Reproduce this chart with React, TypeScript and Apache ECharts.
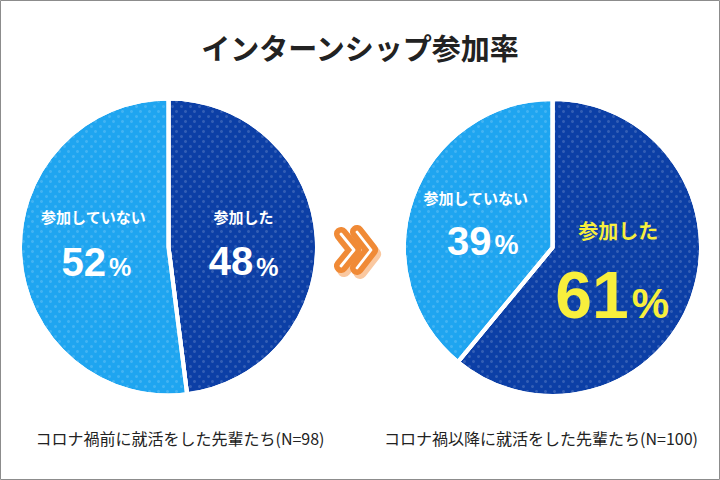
import React, { useEffect, useRef } from "react";
import * as echarts from "echarts";

const titleText = "インターンシップ参加率";
const categories = ["参加した", "参加していない"];
const beforeValues = [48, 52];
const afterValues = [61, 39];
const groupLabels = [
  "コロナ禍前に就活をした先輩たち(N=98)",
  "コロナ禍以降に就活をした先輩たち(N=100)",
];

const DARK = "#0c3fa6";
const LIGHT = "#1fa5f0";
const YELLOW = "#f8ef3c";
const JP = '"Noto Sans CJK JP", "Noto Sans", sans-serif';
const NUM = '"Liberation Sans", Arial, sans-serif';

const decalDots = {
  symbol: "circle",
  symbolSize: 1,
  color: "rgba(255,255,255,0.16)",
  dashArrayX: [
    [2.6, 5.4],
    [0, 4, 2.6, 1.4],
  ],
  dashArrayY: [2.6, 1.4],
  rotation: 0,
};

function richFor(
  nameSize: number,
  nameLH: number,
  numSize: number,
  numLH: number,
  padLeft: number,
  padRight: number,
  pctSize: number,
  pctShift: number,
  color: string
) {
  return {
    n: { fontSize: nameSize, lineHeight: nameLH, fontWeight: "bold", fontFamily: JP, color },
    v: { fontSize: numSize, lineHeight: numLH, fontWeight: "bold", fontFamily: NUM, color, padding: [0, 0, 0, padLeft] },
    p: {
      fontSize: pctSize,
      lineHeight: numLH,
      fontWeight: "bold",
      fontFamily: NUM,
      color,
      padding: [pctShift, padRight, 0, 3],
    },
  };
}

const fmt = (p: any) => `{n|${p.name}}\n{v|${p.value}}{p|%}`;

export default function App() {
  const ref = useRef<HTMLDivElement>(null);
  useEffect(() => {
    if (!ref.current) return;
    const chart = echarts.init(ref.current, null, { renderer: "svg" });

    const makeData = (values: number[], styles: any[]) =>
      values.map((v, i) => ({
        name: categories[i],
        value: v,
        itemStyle: { color: i === 0 ? DARK : LIGHT, decal: decalDots },
        label: styles[i],
      }));

    const beforeData = makeData(beforeValues, [
      { rich: richFor(15, 34, 40, 56, 0, 0, 25, 11, "#ffffff"), padding: [4, 4, 0, 0] },
      { rich: richFor(15, 34, 40, 56, 6, 0, 25, 11, "#ffffff"), padding: [0, 0, 14, 4] },
    ]);
    const afterData = makeData(afterValues, [
      { rich: richFor(20, 40, 66, 88, 0, 12, 42, 17, YELLOW), padding: [2, 14, 0, 0] },
      { rich: richFor(15, 34, 40, 52, 14, 0, 27, 9, "#ffffff"), padding: [5, 8, 0, 0] },
    ]);

    const pieBase = {
      type: "pie",
      radius: 148.5,
      startAngle: 90,
      clockwise: true,
      silent: true,
      avoidLabelOverlap: false,
      itemStyle: { borderColor: "#ffffff", borderWidth: 4 },
      label: { show: true, position: "inside", formatter: fmt },
      labelLine: { show: false },
      emphasis: { disabled: true },
    };

    const chevrons = [
      [[341, 234], [354, 250], [341, 266]],
      [[357, 232], [371, 250], [357, 268]],
    ];
    const arrowEls: any[] = [];
    const layer = (dx: number, dy: number, color: string, width: number, z: number) =>
      chevrons.forEach((pts) =>
        arrowEls.push({
          type: "polyline",
          shape: { points: pts.map(([a, b]) => [a + dx, b + dy]) },
          style: { stroke: color, lineWidth: width, fill: null, lineJoin: "round", lineCap: "round" },
          z,
          silent: true,
        })
      );
    layer(3, 4, "#fac8a0", 14, 10);
    layer(0, 0, "#f08a36", 14, 11);
    layer(0, 0, "#ffffff", 2.8, 12);

    chart.setOption({
      animation: false,
      backgroundColor: "#ffffff",
      title: {
        text: titleText,
        left: "center",
        top: 32,
        padding: 0,
        textStyle: { fontSize: 29, fontWeight: "bold", fontFamily: JP, color: "#222222" },
      },
      series: [
        { ...pieBase, center: [168.5, 247], data: beforeData },
        { ...pieBase, center: [552.5, 247.5], data: afterData },
      ],
      graphic: [
        {
          type: "rect",
          shape: { x: 0.5, y: 0.5, width: 719, height: 479 },
          style: { fill: null, stroke: "#8c8c8c", lineWidth: 1 },
          silent: true,
          z: 100,
        },
        {
          type: "text",
          x: 180,
          y: 438,
          style: { text: groupLabels[0], fontSize: 16, fontFamily: JP, fill: "#222222", align: "center", verticalAlign: "middle" },
        },
        {
          type: "text",
          x: 541,
          y: 438,
          style: { text: groupLabels[1], fontSize: 16, fontFamily: JP, fill: "#222222", align: "center", verticalAlign: "middle" },
        },
        ...arrowEls,
      ],
    });
    return () => chart.dispose();
  }, []);
  return <div ref={ref} style={{ position: "absolute", left: 0, top: 0, width: 720, height: 480 }} />;
}
